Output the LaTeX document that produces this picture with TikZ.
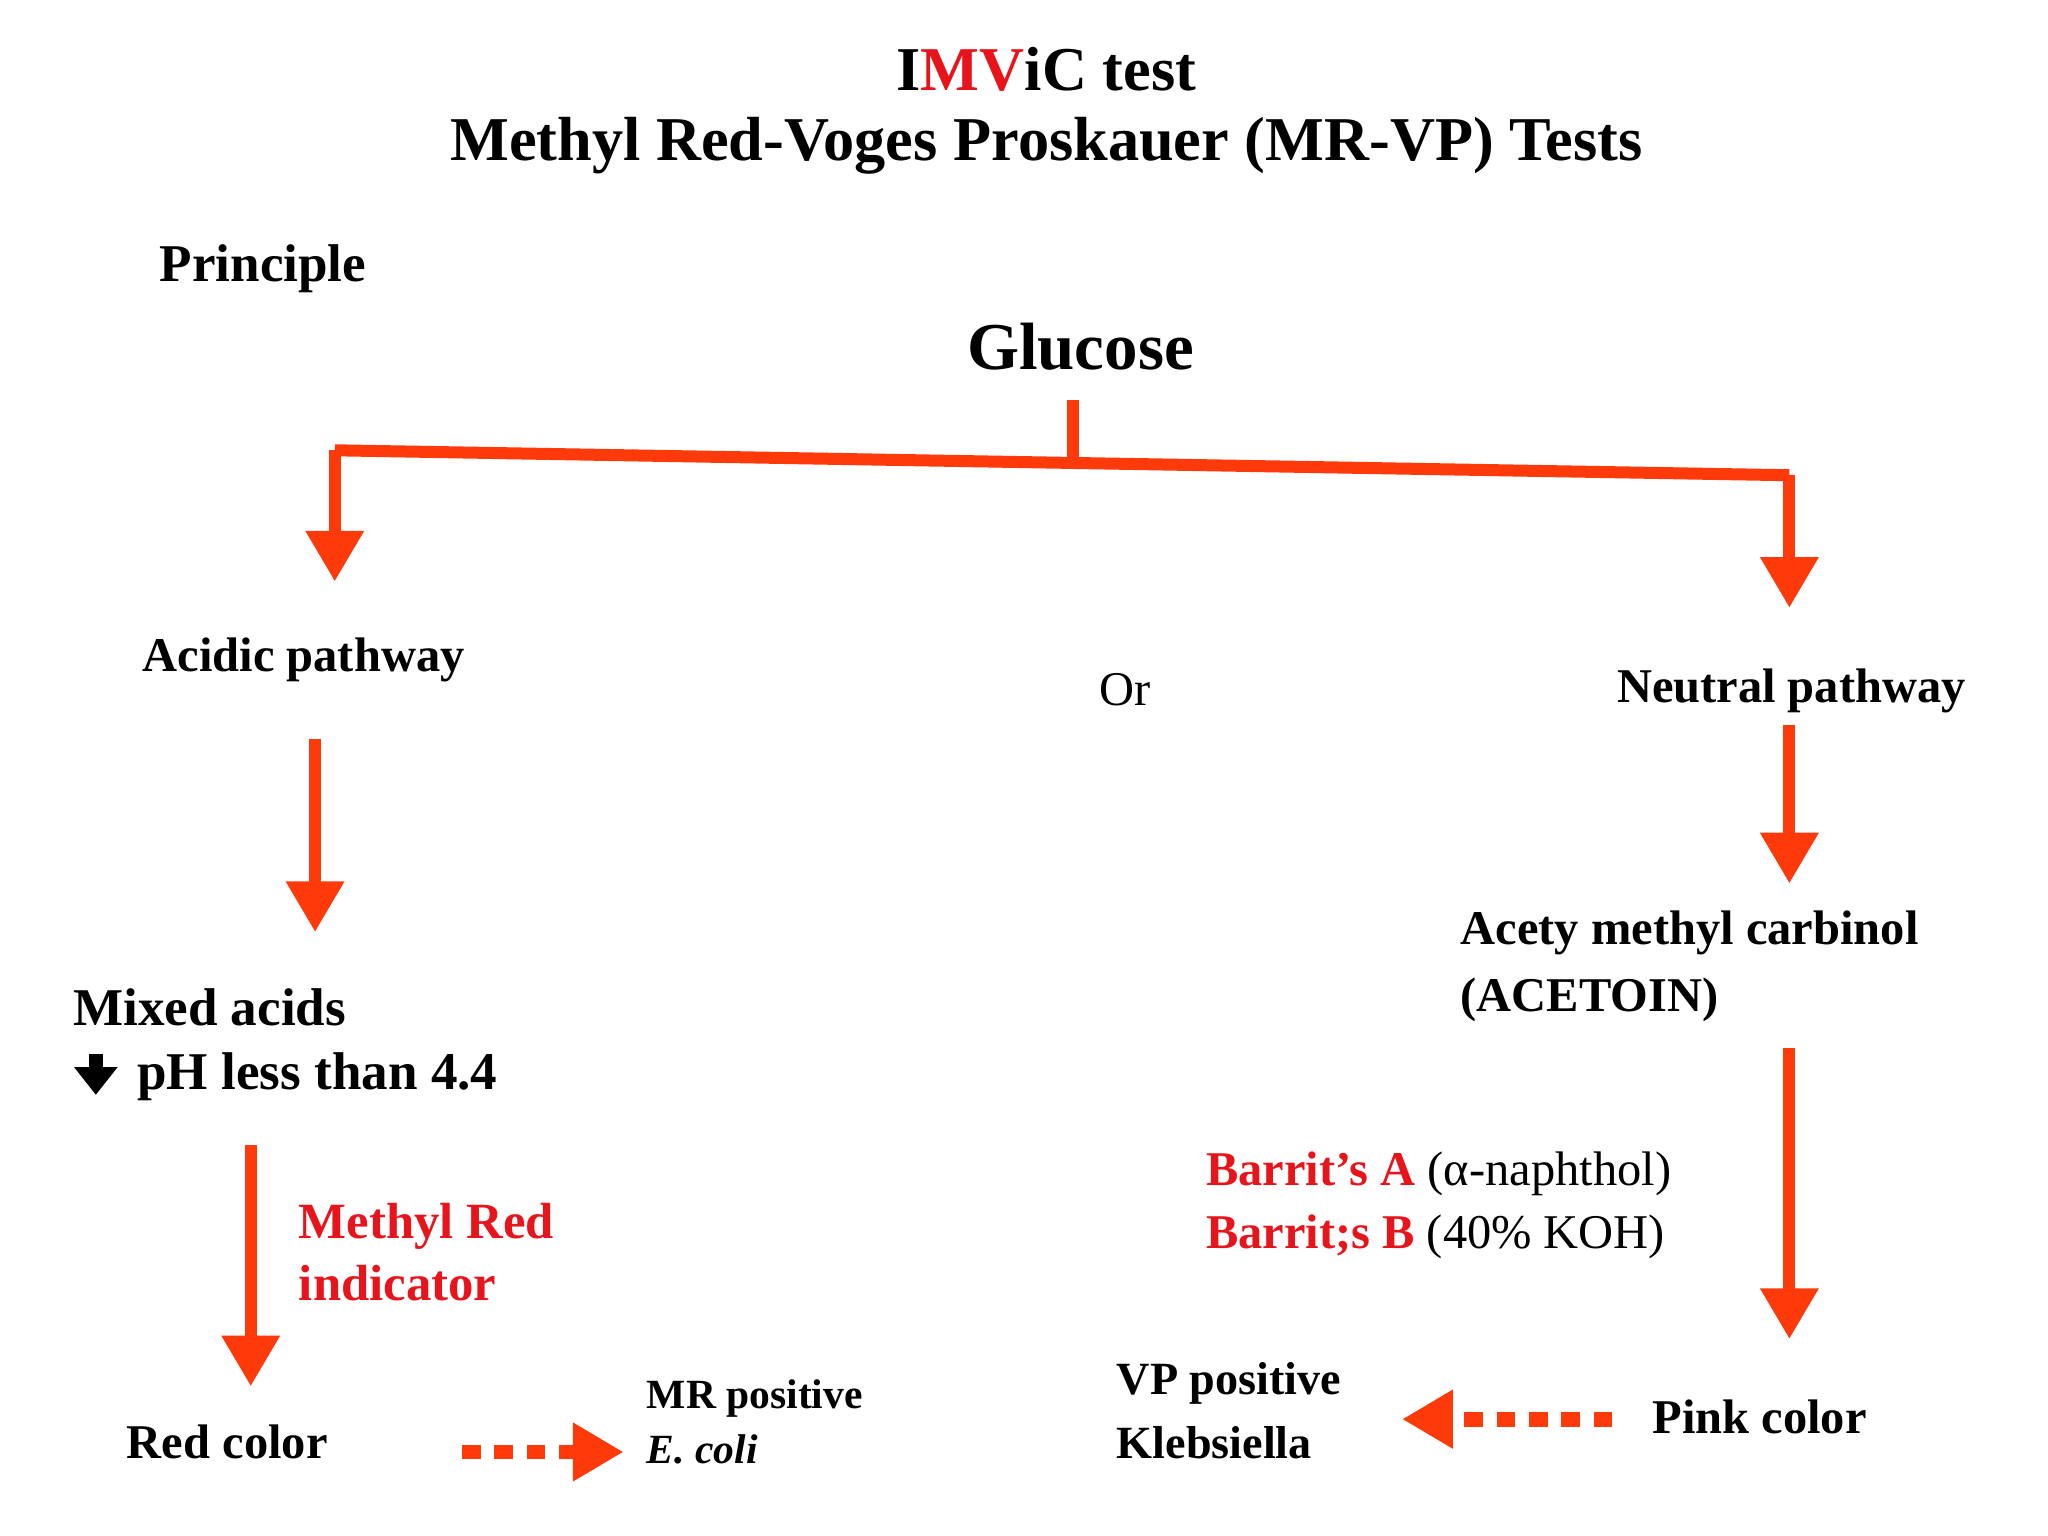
\documentclass[tikz,border=0pt]{standalone}
\usepackage{fontspec}
\setmainfont{Liberation Serif}
\usetikzlibrary{arrows.meta}
\definecolor{flow}{HTML}{FF3A0A}
\definecolor{redtxt}{HTML}{E8141B}
\begin{document}
\begin{tikzpicture}[x=0.01cm,y=-0.01cm,
  lbl/.style={font=\bfseries\fontsize{10.5}{12.5}\selectfont,align=left,inner sep=0pt},
  red lbl/.style={lbl,text=redtxt},
  flowarr/.style={draw=flow,line width=2.6pt,-{Triangle[length=11pt,width=12pt]}},
  flowline/.style={draw=flow,line width=2.6pt},
  dotarr/.style={draw=flow,line width=3.2pt,dash pattern=on 4pt off 3pt,-{Triangle[length=11pt,width=12pt]}}]
\useasboundingbox (0,0) rectangle (1560,1170);
% titles
\node[font=\bfseries\fontsize{13.5}{15}\selectfont] (title1) at (797,53) {I{\color{redtxt}MV}iC test};
\node[font=\bfseries\fontsize{13.5}{15}\selectfont] (title2) at (797,111) {Methyl Red-Voges Proskauer (MR-VP) Tests};
\node[lbl,anchor=west,font=\bfseries\fontsize{11.5}{13}\selectfont] (principle) at (121,205) {Principle};
\node[font=\bfseries\fontsize{14.5}{16}\selectfont] (glucose) at (823,264) {Glucose};
% left column
\node[lbl,anchor=west] (acidic) at (108,503) {Acidic pathway};
\node[font=\fontsize{10.5}{12.5}\selectfont] (or) at (857,525) {Or};
\node[lbl,anchor=west,font=\bfseries\fontsize{11.5}{13}\selectfont] (mixed) at (55,767) {Mixed acids};
\node[lbl,anchor=west,font=\bfseries\fontsize{11.5}{13}\selectfont] (ph) at (104,820) {pH less than 4.4};
\node[lbl,anchor=west] (redcol) at (96,1098) {Red color};
\node[red lbl,anchor=west,font=\bfseries\fontsize{11}{13.5}\selectfont] (mrind) at (227,954) {Methyl Red\\indicator};
\node[anchor=north west,align=left,font=\fontsize{9}{11}\selectfont,inner sep=0pt] (mrpos) at (492,1050)
  {\textbf{MR positive}\\[1pt]\textbf{\itshape E. coli}};
% right column
\node[lbl,anchor=west] (neutral) at (1231,526) {Neutral pathway};
\node[lbl,anchor=north west] (acetoin) at (1112,693) {Acety methyl carbinol\\[2pt](ACETOIN)};
\node[anchor=north west,align=left,inner sep=0pt,font=\fontsize{10.5}{12.5}\selectfont] (barrit) at (918,877)
  {{\color{redtxt}\textbf{Barrit’s A}} (α-naphthol)\\[1pt]{\color{redtxt}\textbf{Barrit;s B}} (40\% KOH)};
\node[lbl,anchor=west] (pink) at (1258,1079) {Pink color};
\node[anchor=north west,align=left,inner sep=0pt,font=\bfseries\fontsize{10}{12}\selectfont] (vppos) at (850,1037)
  {VP positive\\[2pt]Klebsiella};
% branching from glucose
\coordinate (stub) at (817,305);
\coordinate (mid) at (817,350);
\coordinate (lcorner) at (255,343);
\coordinate (rcorner) at (1363,362);
\coordinate (ltip) at (255,443);
\coordinate (rtip) at (1363,463);
\draw[flowline] (stub) -- (mid);
\draw[flowline] (lcorner) -- (rcorner);
\draw[flowarr] (lcorner) -- (ltip);
\draw[flowarr] (rcorner) -- (rtip);
% pathway arrows
\coordinate (a1) at (240,563); \coordinate (a2) at (240,710);
\draw[flowarr] (a1) -- (a2);
\coordinate (b1) at (191,872); \coordinate (b2) at (191,1056);
\draw[flowarr] (b1) -- (b2);
\coordinate (c1) at (1363,552); \coordinate (c2) at (1363,673);
\draw[flowarr] (c1) -- (c2);
\coordinate (d1) at (1363,798); \coordinate (d2) at (1363,1020);
\draw[flowarr] (d1) -- (d2);
% dotted result arrows
\coordinate (e1) at (352,1106); \coordinate (e2) at (475,1106);
\draw[dotarr] (e1) -- (e2);
\coordinate (f1) at (1228,1081); \coordinate (f2) at (1068,1081);
\draw[dotarr] (f1) -- (f2);
% small down arrow before pH
\draw[black,line width=3pt,-{Triangle[length=6pt,width=9pt]}] (73,803) -- (73,834);
\end{tikzpicture}
\end{document}
